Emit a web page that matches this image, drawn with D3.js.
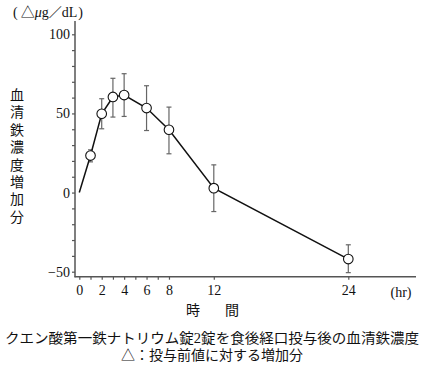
<!DOCTYPE html>
<html><head><meta charset="utf-8">
<script src="https://cdn.jsdelivr.net/npm/d3@7"></script>
<style>
body{margin:0;background:#fff;}
text{font-family:"Liberation Serif","Noto Sans CJK JP",serif;fill:#111;}
</style></head>
<body><svg id="c" width="425" height="369"></svg>
<script>
const hours   = [0, 1, 2, 3, 4, 6, 8, 12, 24];
const means   = [0, 23.4, 49.8, 60.4, 61.6, 53.4, 39.7, 2.8, -42];
const errUp   = [null, 27, 59.3, 72.2, 75.1, 67.5, 54, 17.5, -33];
const errLow  = [null, 19.4, 40.3, 47.7, 48.1, 39.2, 24.5, -12, -50.6];
const yTickLabels = [-50, 0, 50, 100];
const yMinorTicks = d3.range(-50, 101, 10);
const xTickLabels = [0, 2, 4, 6, 8, 12, 24];
const xMinorTicks = [0,1,2,3,4,5,6,7,8,12,24];

const svg = d3.select("#c");
const x = d3.scaleLinear().domain([0,24]).range([79.3,348.3]);
const y = d3.scaleLinear().domain([-50,100]).range([271.7,34.3]);
const axisX0 = 75, axisY0 = 276.7;
const axisColor = "#555";

// Y axis
const gy = svg.append("g").attr("transform",`translate(${axisX0},0)`)
  .call(d3.axisLeft(y).tickValues(yMinorTicks).tickSize(3)
    .tickFormat(d => yTickLabels.includes(d) ? (d<0? "−"+Math.abs(d) : d) : ""));
gy.select(".domain").remove();
gy.selectAll(".tick line").attr("stroke",axisColor).attr("stroke-width",1.2);
gy.selectAll(".tick text").attr("font-size",14).attr("x",-5)
  .style("font-family","Liberation Serif").attr("fill","#111");
svg.append("line").attr("x1",axisX0).attr("x2",axisX0).attr("y1",21).attr("y2",axisY0+0.5)
  .attr("stroke",axisColor).attr("stroke-width",1.5);

// X axis
const gx = svg.append("g").attr("transform",`translate(0,${axisY0})`)
  .call(d3.axisBottom(x).tickValues(xMinorTicks).tickSize(3)
    .tickFormat(d => xTickLabels.includes(d) ? d : ""));
gx.select(".domain").remove();
gx.selectAll(".tick line").attr("stroke",axisColor).attr("stroke-width",1.2);
gx.selectAll(".tick text").attr("font-size",14).attr("y",8)
  .style("font-family","Liberation Serif").attr("fill","#111");
svg.append("line").attr("x1",axisX0-0.5).attr("x2",416).attr("y1",axisY0).attr("y2",axisY0)
  .attr("stroke",axisColor).attr("stroke-width",1.5);

// Labels
svg.append("text").attr("x",401).attr("y",297).attr("text-anchor","middle")
  .attr("font-size",14).text("(hr)");
svg.append("text").attr("x",193).attr("y",315).attr("text-anchor","middle")
  .attr("font-size",14).text("時");
svg.append("text").attr("x",232).attr("y",315).attr("text-anchor","middle")
  .attr("font-size",14).text("間");
const unit = svg.append("text").attr("x",13).attr("y",17).attr("font-size",14);
unit.append("tspan").text("(");
unit.append("tspan").attr("dx",3).text("△");
unit.append("tspan").attr("font-style","italic").text("μ");
unit.append("tspan").text("g");
unit.append("tspan").attr("font-size",13).text("／");
unit.append("tspan").text("dL");
unit.append("tspan").attr("dx",1).text(")");
const ylab = "血清鉄濃度増加分".split("");
svg.selectAll(".yl").data(ylab).enter().append("text")
  .attr("x",17).attr("y",(d,i)=>100+i*17.4).attr("text-anchor","middle")
  .attr("font-size",14).text(d=>d);
svg.append("text").attr("x",212).attr("y",343).attr("text-anchor","middle")
  .attr("font-size",14).attr("textLength",414).attr("lengthAdjust","spacingAndGlyphs")
  .text("クエン酸第一鉄ナトリウム錠2錠を食後経口投与後の血清鉄濃度");
svg.append("text").attr("x",212).attr("y",360).attr("text-anchor","middle")
  .attr("font-size",14).text("△：投与前値に対する増加分");

// Data
const data = hours.map((h,i)=>({h, m:means[i], up:errUp[i], lo:errLow[i]}));
const eb = data.filter(d=>d.up!==null);
const ebg = svg.append("g").attr("stroke","#666").attr("stroke-width",1.2);
eb.forEach(d=>{
  ebg.append("line").attr("x1",x(d.h)).attr("x2",x(d.h)).attr("y1",y(d.up)).attr("y2",y(d.lo));
  ebg.append("line").attr("x1",x(d.h)-2.5).attr("x2",x(d.h)+2.5).attr("y1",y(d.up)).attr("y2",y(d.up));
  ebg.append("line").attr("x1",x(d.h)-2.5).attr("x2",x(d.h)+2.5).attr("y1",y(d.lo)).attr("y2",y(d.lo));
});
svg.append("path").datum(data)
  .attr("d", d3.line().x(d=>x(d.h)).y(d=>y(d.m)))
  .attr("fill","none").attr("stroke","#111").attr("stroke-width",1.5);
svg.selectAll(".pt").data(eb).enter().append("circle")
  .attr("cx",d=>x(d.h)).attr("cy",d=>y(d.m)).attr("r",4.8)
  .attr("fill","#fff").attr("stroke","#111").attr("stroke-width",1.1);
</script></body></html>
